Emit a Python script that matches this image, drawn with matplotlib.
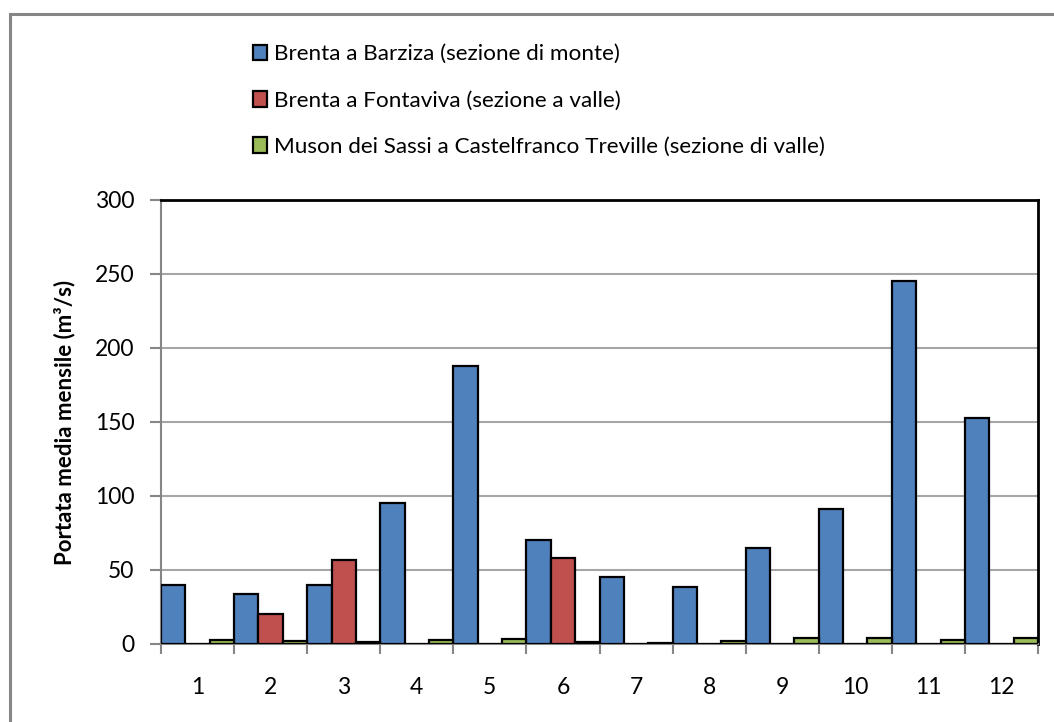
import numpy as np
import matplotlib.pyplot as plt
from matplotlib.patches import Rectangle

plt.rcParams['font.family'] = ['Lato', 'DejaVu Sans']

mesi = np.arange(1, 13)
barziza = [40, 34, 40, 95, 188, 70, 45.5, 38.5, 65, 91, 245, 153]
fontaviva = [0, 20.5, 57, 0, 0, 58, 0, 0, 0, 0, 0, 0]
muson = [2.7, 2.0, 1.4, 2.7, 3.4, 1.1, 0.9, 1.8, 3.8, 3.8, 2.9, 4.3]
etichette = ['Brenta a Barziza (sezione di monte)',
             'Brenta a Fontaviva (sezione a valle)',
             'Muson dei Sassi a Castelfranco Treville (sezione di valle)']
colori = ['#4f81bd', '#c0504d', '#9bbb59']

fig = plt.figure(figsize=(10.54, 7.22), dpi=100)
ax = fig.add_axes([161/1054, 1-644/722, 877/1054, 444/722])

# outer chart frame
fig.patches.append(Rectangle((10/1054, -0.1), 1.0, 1.1-14/722, transform=fig.transFigure,
                             fill=False, edgecolor='#868686', linewidth=2.2))

w = 1/3
for i, (serie, col, lab) in enumerate(zip([barziza, fontaviva, muson], colori, etichette)):
    ax.bar(mesi + (i-1)*w, serie, width=w, color=col, edgecolor='black',
           linewidth=1.6, label=lab, zorder=3)

ax.set_xlim(0.5, 12.5)
ax.set_ylim(0, 300)
ax.set_yticks(range(0, 301, 50))
ax.set_xticks(mesi)
ax.set_xticks(np.arange(0.5, 12.6, 1), minor=True)
ax.tick_params(axis='x', which='major', length=0, pad=24, labelsize=16.5)
ax.tick_params(axis='x', which='minor', length=7, width=1.5, color='#868686')
ax.tick_params(axis='y', length=8, width=1.5, color='#868686', pad=11, labelsize=16.5)
ax.yaxis.grid(True, color='#a6a6a6', linewidth=1.5, zorder=0)

for s in ['left', 'bottom']:
    ax.spines[s].set_color('#868686')
    ax.spines[s].set_linewidth(1.5)
for s in ['top', 'right']:
    ax.spines[s].set_color('black')
    ax.spines[s].set_linewidth(2)

ax.set_ylabel('Portata media mensile (m³/s)', fontsize=16, fontweight='bold', labelpad=14)

fig.legend(loc='upper left', bbox_to_anchor=(233/1054, 1-24/722), frameon=False,
           fontsize=16.2, handlelength=0.62, handleheight=0.7, handletextpad=0.3,
           labelspacing=1.17)

fig.savefig('out.png', dpi=100)
